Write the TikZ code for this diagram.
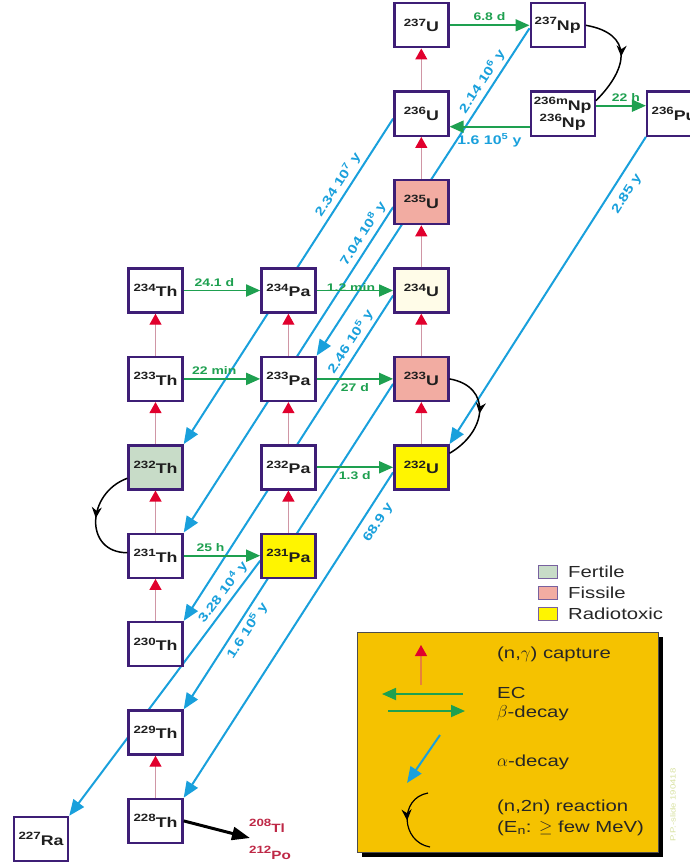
\documentclass[tikz,border=0pt]{standalone}
\usepackage{fontspec}
\setmainfont{Liberation Sans}[FakeStretch=1.27]
\usetikzlibrary{arrows.meta, positioning, backgrounds, decorations.markings}
\definecolor{nbord}{RGB}{62,30,118}
\definecolor{agreen}{RGB}{30,160,80}
\definecolor{ablue}{RGB}{25,160,220}
\definecolor{capline}{RGB}{208,150,165}
\definecolor{capred}{RGB}{225,0,45}
\definecolor{legorange}{RGB}{232,128,58}
\definecolor{fertile}{RGB}{200,220,200}
\definecolor{fissile}{RGB}{242,172,162}
\definecolor{toxic}{RGB}{255,245,0}
\definecolor{pale}{RGB}{255,252,232}
\definecolor{legbg}{RGB}{245,194,0}
\definecolor{prodred}{RGB}{190,40,70}
\definecolor{wmark}{RGB}{215,225,160}
\newcommand{\nuc}[2]{\raisebox{5.5pt}{\fontsize{10.5}{10}\selectfont #1}#2}

\begin{document}
\begin{tikzpicture}[x=1pt, y=-1pt,
  node distance=42pt and 76.5pt,
  nbox/.style={draw=nbord, line width=2.4pt, fill=white,
               minimum width=54pt, minimum height=44pt, inner sep=1pt,
               text=black!88, font=\bfseries\fontsize{14}{17}\selectfont},
  capt/.style={draw=capline, line width=1.2pt,
               -{Triangle[length=11pt,width=12pt,color=capred]}},
  beta/.style={draw=agreen, line width=1.8pt, -{Triangle[length=14pt,width=12pt]}},
  alph/.style={draw=ablue, line width=2pt, -{Triangle[length=16pt,width=13pt]}},
  n2n/.style={draw=black, line width=1.5pt, postaction={decorate},
              decoration={markings, mark=at position 0.5 with {\arrow{Stealth[length=11pt,width=10pt]}}}},
  hlb/.style={text=agreen, font=\bfseries\fontsize{11}{12}\selectfont},
  hla/.style={text=ablue, font=\bfseries\fontsize{12.5}{13}\selectfont},
  legsq/.style={draw=nbord!70, line width=1pt, minimum width=19pt,
                minimum height=13pt, inner sep=0pt},
  legtxt/.style={anchor=west, inner sep=0pt, text=black!85,
                 font=\fontsize{16}{18}\selectfont}
]
  \useasboundingbox (0,0) rectangle (690,864);

  % nuclide chart
  \node[nbox] (th234) at (155.5,290.5) {\nuc{234}{Th}};
  \node[nbox,right=of th234] (pa234) {\nuc{234}{Pa}};
  \node[nbox,fill=pale,right=of pa234] (u234) {\nuc{234}{U}};
  \node[nbox,fill=fissile,above=of u234] (u235) {\nuc{235}{U}};
  \node[nbox,above=of u235] (u236) {\nuc{236}{U}};
  \node[nbox,above=of u236] (u237) {\nuc{237}{U}};
  \node[nbox,right=80pt of u237] (np237) {\nuc{237}{Np}};
  \node[nbox,minimum width=64pt,align=center,inner sep=0pt,right=80pt of u236] (np236)
    {\nuc{236m}{Np}\\\nuc{236}{Np}};
  \node[nbox,right=50pt of np236] (pu236) {\nuc{236}{Pu}};

  \node[nbox,below=of th234] (th233) {\nuc{233}{Th}};
  \node[nbox,fill=fertile,below=of th233] (th232) {\nuc{232}{Th}};
  \node[nbox,below=of th232] (th231) {\nuc{231}{Th}};
  \node[nbox,below=of th231] (th230) {\nuc{230}{Th}};
  \node[nbox,below=of th230] (th229) {\nuc{229}{Th}};
  \node[nbox,below=of th229] (th228) {\nuc{228}{Th}};
  \node[nbox] (ra227) at (41,839) {\nuc{227}{Ra}};

  \node[nbox,below=of pa234] (pa233) {\nuc{233}{Pa}};
  \node[nbox,below=of pa233] (pa232) {\nuc{232}{Pa}};
  \node[nbox,fill=toxic,below=of pa232] (pa231) {\nuc{231}{Pa}};
  \node[nbox,fill=fissile,below=of u234] (u233) {\nuc{233}{U}};
  \node[nbox,fill=toxic,below=of u233] (u232) {\nuc{232}{U}};

  \node[text=prodred,font=\bfseries\fontsize{12}{12}\selectfont] (tl208) at (267,826) {\nuc{208}{Tl}};
  \node[text=prodred,font=\bfseries\fontsize{12}{12}\selectfont] (po212) at (270,853) {\nuc{212}{Po}};
  \coordinate (prod) at (250,838);

  % alpha decays, behind the boxes
  \begin{scope}[on background layer]
    \draw[alph] (pu236.south west) -- node[hla,sloped,below=5pt,pos=0.16]{2.85 y} (u232.north east);
    \draw[alph] ([yshift=-3pt]np237.west) -- node[hla,sloped,above,pos=0.18]{2.14 10\textsuperscript{6} y} (pa233.north east);
    \draw[alph] ([yshift=-5pt]u236.west) -- node[hla,sloped,above,pos=0.22]{2.34 10\textsuperscript{7} y} (th232.north east);
    \draw[alph] ([yshift=-5pt]u235.west) -- node[hla,sloped,above,pos=0.1]{7.04 10\textsuperscript{8} y} (th231.north east);
    \draw[alph] ([yshift=-5pt]u234.west) -- node[hla,sloped,above,pos=0.16]{2.46 10\textsuperscript{5} y} (th230.north east);
    \draw[alph] ([yshift=-5pt]u233.west) -- node[hla,sloped,below,pos=0.74]{1.6 10\textsuperscript{5} y} (th229.north east);
    \draw[alph] ([yshift=-5pt]u232.west) -- node[hla,sloped,below=5pt,pos=0.13]{68.9 y} (th228.north east);
    \draw[alph] ([yshift=-5pt]pa231.west) -- node[hla,sloped,above,pos=0.15]{3.28 10\textsuperscript{4} y} (ra227.north east);
  \end{scope}

  % beta decays and EC
  \draw[beta] (th234) -- node[hlb,above,pos=0.4]{24.1 d} (pa234);
  \draw[beta] (pa234) -- node[hlb,above,yshift=-5pt,pos=0.45]{1.2 min} (u234);
  \draw[beta] (th233) -- node[hlb,above,pos=0.4]{22 min} (pa233);
  \draw[beta] (pa233) -- node[hlb,below]{27 d} (u233);
  \draw[beta] (pa232) -- node[hlb,below]{1.3 d} (u232);
  \draw[beta] (th231) -- node[hlb,above,pos=0.35]{25 h} (pa231);
  \draw[beta] (u237) -- node[hlb,above]{6.8 d} (np237);
  \draw[beta] ([yshift=8pt]np236.east) -- node[hlb,above,pos=0.6]{22 h} ([yshift=8pt]pu236.west);
  \draw[beta] ([yshift=-13pt]np236.west) -- node[hla,below=3pt]{1.6 10\textsuperscript{5} y} ([yshift=-13pt]u236.east);

  % neutron capture
  \foreach \a/\b in {th233/th234,th232/th233,th231/th232,th230/th231,th228/th229,
                     pa233/pa234,pa232/pa233,pa231/pa232,
                     u232/u233,u233/u234,u234/u235,u235/u236,u236/u237}
    \draw[capt] (\a) -- (\b);

  % (n,2n)
  \draw[n2n] (np237.east) to[out=-10,in=45,looseness=1.6] ([yshift=13pt]np236.east);
  \draw[n2n] ([yshift=-11pt]th232.west) to[out=200,in=180,looseness=1.5] ([yshift=3pt]th231.west);
  \draw[n2n] (u233.east) to[out=-10,in=30,looseness=1.5] ([yshift=14pt]u232.east);

  \draw[line width=3pt,-{Triangle[length=18pt,width=13pt]}] (th228.east) -- (prod);

  % legend
  \node[legsq,fill=fertile] (sqfer) at (548,572) {};
  \node[legsq,fill=fissile] (sqfis) at (548,593) {};
  \node[legsq,fill=toxic] (sqtox) at (548,614) {};
  \node[legtxt,right=10pt of sqfer] (lfer) {Fertile};
  \node[legtxt,right=10pt of sqfis] (lfis) {Fissile};
  \node[legtxt,right=10pt of sqtox] (ltox) {Radiotoxic};

  \node[fill=black,minimum width=301pt,minimum height=220pt,inner sep=0pt,anchor=north west] (legshadow) at (362,637) {};
  \node[draw=black!70,line width=0.6pt,fill=legbg,minimum width=301pt,minimum height=220pt,
        inner sep=0pt,anchor=north west] (legbox) at (357,632) {};

  \coordinate (gc0) at (421,685); \coordinate (gc1) at (421,645);
  \coordinate (ge0) at (463,694); \coordinate (ge1) at (382,694);
  \coordinate (gb0) at (388,711); \coordinate (gb1) at (465,711);
  \coordinate (ga0) at (440,735); \coordinate (ga1) at (407,783);
  \coordinate (gn0) at (428,793); \coordinate (gn1) at (430,847);
  \draw[capt,draw=legorange] (gc0) -- (gc1);
  \draw[beta] (ge0) -- (ge1);
  \draw[beta] (gb0) -- (gb1);
  \draw[alph] (ga0) -- (ga1);
  \draw[n2n,line width=1.2pt] (gn0) to[out=190,in=170,looseness=1.4] (gn1);

  \node[legtxt] (lcap) at (497,654) {(n,$\gamma$) capture};
  \node[legtxt] (lec) at (497,693) {EC};
  \node[legtxt] (lbeta) at (497,713) {$\beta$-decay};
  \node[legtxt] (lalpha) at (497,762) {$\alpha$-decay};
  \node[legtxt] (ln2n) at (497,807) {(n,2n) reaction};
  \node[legtxt] (len) at (497,828) {(E\textsubscript{n}: $\geq$ few MeV)};

  \node[rotate=90,text=wmark,font=\fontsize{7.5}{8}\selectfont] (wm) at (673,805) {P.P.-slide 190418};
\end{tikzpicture}
\end{document}
